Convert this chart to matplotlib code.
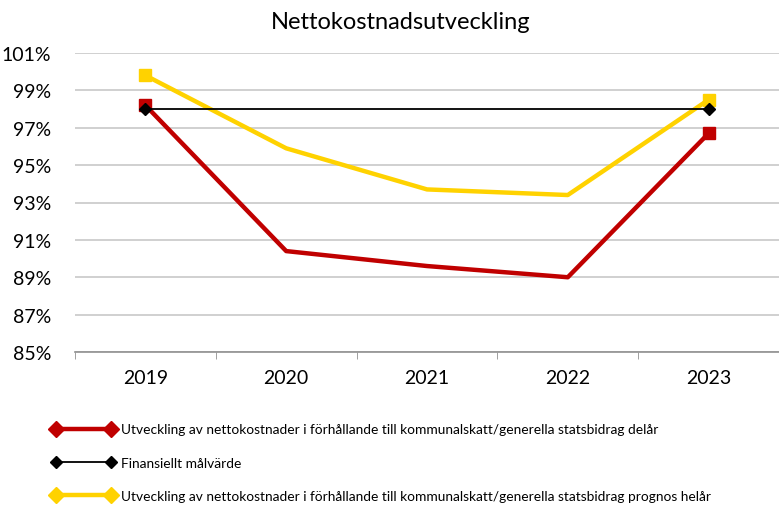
import matplotlib
matplotlib.use("Agg")
import matplotlib.pyplot as plt
from matplotlib.lines import Line2D
from matplotlib.ticker import FuncFormatter

plt.rcParams["font.family"] = ["Lato", "DejaVu Sans"]

years = ["2019", "2020", "2021", "2022", "2023"]
delar = [98.2, 90.4, 89.6, 89.0, 96.7]
malvarde = [98.0, 98.0, 98.0, 98.0, 98.0]
helar = [99.8, 95.9, 93.7, 93.4, 98.5]

labels = [
    "Utveckling av nettokostnader i förhållande till kommunalskatt/generella statsbidrag delår",
    "Finansiellt målvärde",
    "Utveckling av nettokostnader i förhållande till kommunalskatt/generella statsbidrag prognos helår",
]

red = "#C00000"
yellow = "#FFD200"

fig = plt.figure(figsize=(7.79, 5.06), dpi=100)
ax = fig.add_axes([75 / 779, 1 - 353 / 506, 1 - 75 / 779, (353 - 54) / 506])

x = list(range(len(years)))
ax.plot(x, malvarde, color="black", lw=1.3, marker="D", markersize=6,
        markevery=[0, 4], zorder=3)
ax.plot(x, delar, color=red, lw=3.2, marker="s", markersize=8,
        markevery=[0, 4], zorder=2)
ax.plot(x, helar, color=yellow, lw=3.2, marker="s", markersize=8,
        markevery=[0, 4], zorder=2)

ax.set_xlim(-0.5, 4.5)
ax.set_ylim(85, 101)
ax.set_yticks(range(85, 102, 2))
ax.yaxis.set_major_formatter(FuncFormatter(lambda v, p: f"{v:.0f}%"))
ax.set_xticks(x)
ax.set_xticklabels(years)
ax.set_xticks([i + 0.5 for i in range(-1, 5)], minor=True)
ax.tick_params(axis="x", which="major", length=0, pad=12, labelsize=14)
ax.tick_params(axis="x", which="minor", length=5, color="#909090")
ax.tick_params(axis="y", length=0, pad=17, labelsize=14)
ax.grid(axis="y", color="#C8C8C8", lw=1.2)
ax.set_axisbelow(True)
for s in ["top", "right", "left"]:
    ax.spines[s].set_visible(False)
ax.spines["bottom"].set_color("#909090")
ax.spines["bottom"].set_linewidth(1.2)

fig.text(0.515, 0.955, "Nettokostnadsutveckling", ha="center", va="center",
         fontsize=17)

handles = [
    Line2D([], [], color=red, lw=3.2, marker="D", markersize=8),
    Line2D([], [], color="black", lw=1.3, marker="D", markersize=6),
    Line2D([], [], color=yellow, lw=3.2, marker="D", markersize=8),
]
fig.legend(handles, labels, loc="upper left", bbox_to_anchor=(0.06, 0.172),
           frameon=False, numpoints=2, handlelength=4.6, handletextpad=0.4,
           labelspacing=1.55, fontsize=9.9, borderaxespad=0)

fig.savefig("out.png", dpi=100)
